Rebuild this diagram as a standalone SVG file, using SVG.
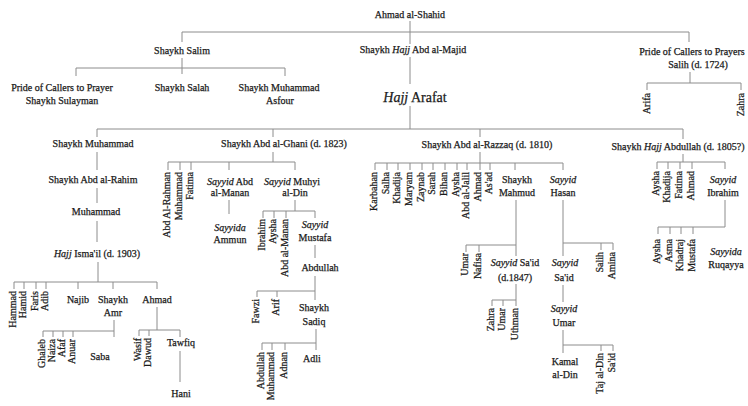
<svg xmlns="http://www.w3.org/2000/svg" width="748" height="406" viewBox="0 0 748 406">
<style>
.t{font-family:"Liberation Serif","Times New Roman",serif;font-size:10px;fill:#1a1a1a;stroke:#1a1a1a;stroke-width:0.25;text-anchor:middle}
.v{text-anchor:end}
.i{font-style:italic}
.big{font-size:14px}
#connectors path{stroke:#8c8c8c;stroke-width:1;fill:none}
</style>
<rect width="748" height="406" fill="#ffffff"/>
<g id="connectors">
<path d="M410 21V44M182 32H689M182 32V42M689 32V42"/>
<path d="M182 58V74M76 68H285M76 68V76M285 68V76"/>
<path d="M410 57V84M410 106V129M97 129H683M97 129V137M273 129V137M480 129V137M683 129V139"/>
<path d="M690 72V83M647 83H741M647 83V90M741 83V90"/>
<path d="M97 152V170M97 188V203M97 221V242"/>
<path d="M98 262V282M14 282H157M14 282V289M24 282V289M36 282V289M46 282V289M78 282V289M113 282V289M157 282V289"/>
<path d="M114 320V337M43 331H114M43 331V337M53 331V337M63 331V337M73 331V337"/>
<path d="M157 307V330M139 330H180M139 330V336M149 330V336M180 330V337M180 351V382"/>
<path d="M273 152V162M168 162H295M168 162V170M180 162V170M191 162V170M229 162V170M295 162V170"/>
<path d="M229 200V214M295 200V211M263 211H315M263 211V218M274 211V218M286 211V218M315 211V218"/>
<path d="M315 245V258M315 276V300M257 291H315M257 291V297M277 291V297"/>
<path d="M316 329V350M262 343H316M262 343V350M272 343V350M285 343V350"/>
<path d="M480 152V170M375 163H563M375 163V170M387 163V170M398 163V170M410 163V170M422 163V170M433 163V170M445 163V170M457 163V170M467 163V170M490 163V170M515 163V170M563 163V170"/>
<path d="M516 200V256M466 245H516M466 245V252M479 245V252M516 284V306M492 300H516M492 300V306M503 300V306"/>
<path d="M563 200V256M563 243H613M601 243V250M613 243V250M563 285V302M563 330V353M563 345H613M601 345V351M613 345V351"/>
<path d="M683 154V162M657 162H725M657 162V169M668 162V169M680 162V169M692 162V169M725 162V169"/>
<path d="M725 200V227M658 227H725M658 227V234M670 227V234M681 227V234M693 227V234"/>
</g>
<g id="n-ahmad-al-shahid"><text class="t" x="410" y="18">Ahmad al-Shahid</text></g>
<g id="n-salim"><text class="t" x="182" y="54">Shaykh Salim</text></g>
<g id="n-abd-al-majid"><text class="t" x="413" y="53">Shaykh <tspan class="i">Hajj</tspan> Abd al-Majid</text></g>
<g id="n-salih"><text class="t" x="692" y="55">Pride of Callers to Prayers</text><text class="t" x="698" y="68">Salih (d. 1724)</text></g>
<g id="n-sulayman"><text class="t" x="62" y="91">Pride of Callers to Prayer</text><text class="t" x="62" y="104">Shaykh Sulayman</text></g>
<g id="n-salah"><text class="t" x="182" y="91">Shaykh Salah</text></g>
<g id="n-asfour"><text class="t" x="279" y="91">Shaykh Muhammad</text><text class="t" x="280" y="104">Asfour</text></g>
<g id="n-arafat"><text class="t big" x="415" y="102"><tspan class="i">Hajj</tspan> Arafat</text></g>
<g id="n-arifa"><text class="t v" transform="translate(650,93) rotate(-90)">Arifa</text></g>
<g id="n-zahra1"><text class="t v" transform="translate(744,93) rotate(-90)">Zahra</text></g>

<g id="n-shaykh-muhammad"><text class="t" x="93" y="147">Shaykh Muhammad</text></g>
<g id="n-abd-al-ghani"><text class="t" x="284" y="147">Shaykh Abd al-Ghani (d. 1823)</text></g>
<g id="n-abd-al-razzaq"><text class="t" x="487" y="148">Shaykh Abd al-Razzaq (d. 1810)</text></g>
<g id="n-hajj-abdullah"><text class="t" x="678" y="150">Shaykh <tspan class="i">Hajj</tspan> Abdullah (d. 1805?)</text></g>

<g id="n-abd-al-rahim"><text class="t" x="93" y="183">Shaykh Abd al-Rahim</text></g>
<g id="n-muhammad2"><text class="t" x="96" y="215">Muhammad</text></g>
<g id="n-ismail"><text class="t" x="97" y="257"><tspan class="i">Hajj</tspan> Isma'il (d. 1903)</text></g>
<g id="n-hammad"><text class="t v" transform="translate(16,291) rotate(-90)">Hammad</text></g>
<g id="n-hamid"><text class="t v" transform="translate(26,291) rotate(-90)">Hamid</text></g>
<g id="n-faris"><text class="t v" transform="translate(38,291) rotate(-90)">Faris</text></g>
<g id="n-adib"><text class="t v" transform="translate(48,291) rotate(-90)">Adib</text></g>
<g id="n-najib"><text class="t" x="78" y="303">Najib</text></g>
<g id="n-amr"><text class="t" x="113" y="303">Shaykh</text><text class="t" x="113" y="316">Amr</text></g>
<g id="n-ahmad2"><text class="t" x="157" y="303">Ahmad</text></g>
<g id="n-ghaleb"><text class="t v" transform="translate(45,339) rotate(-90)">Ghaleb</text></g>
<g id="n-naiza"><text class="t v" transform="translate(55,339) rotate(-90)">Naiza</text></g>
<g id="n-afaf"><text class="t v" transform="translate(65,339) rotate(-90)">Afaf</text></g>
<g id="n-anuar"><text class="t v" transform="translate(75,339) rotate(-90)">Anuar</text></g>
<g id="n-saba"><text class="t" x="100" y="360">Saba</text></g>
<g id="n-wasif"><text class="t v" transform="translate(141,338) rotate(-90)">Wasif</text></g>
<g id="n-dawud"><text class="t v" transform="translate(151,338) rotate(-90)">Dawud</text></g>
<g id="n-tawfiq"><text class="t" x="181" y="346">Tawfiq</text></g>
<g id="n-hani"><text class="t" x="181" y="397">Hani</text></g>

<g id="n-abd-al-rahman"><text class="t v" transform="translate(170,172) rotate(-90)">Abd Al-Rahman</text></g>
<g id="n-muhammad3"><text class="t v" transform="translate(182,172) rotate(-90)">Muhammad</text></g>
<g id="n-fatima1"><text class="t v" transform="translate(193,172) rotate(-90)">Fatima</text></g>
<g id="n-abd-al-manan"><text class="t" x="230" y="185"><tspan class="i">Sayyid</tspan> Abd</text><text class="t" x="230" y="196">al-Manan</text></g>
<g id="n-muhyi"><text class="t" x="292" y="185"><tspan class="i">Sayyid</tspan> Muhyi</text><text class="t" x="295" y="196">al-Din</text></g>
<g id="n-ammun"><text class="t i" x="230" y="231">Sayyida</text><text class="t" x="230" y="243">Ammun</text></g>
<g id="n-ibrahim1"><text class="t v" transform="translate(265,219) rotate(-90)">Ibrahim</text></g>
<g id="n-aysha1"><text class="t v" transform="translate(276,219) rotate(-90)">Aysha</text></g>
<g id="n-abd-al-manan2"><text class="t v" transform="translate(288,219) rotate(-90)">Abd al-Manan</text></g>
<g id="n-mustafa"><text class="t i" x="315" y="228">Sayyid</text><text class="t" x="315" y="241">Mustafa</text></g>
<g id="n-abdullah1"><text class="t" x="320" y="271">Abdullah</text></g>
<g id="n-fawzi"><text class="t v" transform="translate(259,299) rotate(-90)">Fawzi</text></g>
<g id="n-arif"><text class="t v" transform="translate(279,299) rotate(-90)">Arif</text></g>
<g id="n-sadiq"><text class="t" x="314" y="311">Shaykh</text><text class="t" x="314" y="325">Sadiq</text></g>
<g id="n-abdullah2"><text class="t v" transform="translate(264,352) rotate(-90)">Abdullah</text></g>
<g id="n-muhammad4"><text class="t v" transform="translate(274,352) rotate(-90)">Muhammad</text></g>
<g id="n-adnan"><text class="t v" transform="translate(287,352) rotate(-90)">Adnan</text></g>
<g id="n-adli"><text class="t" x="312" y="362">Adli</text></g>

<g id="n-karbahan"><text class="t v" transform="translate(377,172) rotate(-90)">Karbahan</text></g>
<g id="n-salha"><text class="t v" transform="translate(389,172) rotate(-90)">Salha</text></g>
<g id="n-khadija1"><text class="t v" transform="translate(400,172) rotate(-90)">Khadija</text></g>
<g id="n-maryam"><text class="t v" transform="translate(412,172) rotate(-90)">Maryam</text></g>
<g id="n-zaynab"><text class="t v" transform="translate(424,172) rotate(-90)">Zaynab</text></g>
<g id="n-sarah"><text class="t v" transform="translate(435,172) rotate(-90)">Sarah</text></g>
<g id="n-bihan"><text class="t v" transform="translate(447,172) rotate(-90)">Bihan</text></g>
<g id="n-aysha2"><text class="t v" transform="translate(459,172) rotate(-90)">Aysha</text></g>
<g id="n-abd-al-jalil"><text class="t v" transform="translate(469,172) rotate(-90)">Abd al-Jalil</text></g>
<g id="n-ahmad3"><text class="t v" transform="translate(481,172) rotate(-90)">Ahmad</text></g>
<g id="n-asad"><text class="t v" transform="translate(492,172) rotate(-90)">As'ad</text></g>
<g id="n-mahmud"><text class="t" x="517" y="183">Shaykh</text><text class="t" x="517" y="196">Mahmud</text></g>
<g id="n-hasan"><text class="t i" x="563" y="183">Sayyid</text><text class="t" x="563" y="196">Hasan</text></g>
<g id="n-umar1"><text class="t v" transform="translate(468,253) rotate(-90)">Umar</text></g>
<g id="n-nafisa"><text class="t v" transform="translate(481,253) rotate(-90)">Nafisa</text></g>
<g id="n-said1"><text class="t" x="515" y="266"><tspan class="i">Sayyid</tspan> Sa'id</text><text class="t" x="515" y="281">(d.1847)</text></g>
<g id="n-zahra2"><text class="t v" transform="translate(494,308) rotate(-90)">Zahra</text></g>
<g id="n-umar2"><text class="t v" transform="translate(505,308) rotate(-90)">Umar</text></g>
<g id="n-uthman"><text class="t v" transform="translate(518,308) rotate(-90)">Uthman</text></g>
<g id="n-said2"><text class="t i" x="565" y="266">Sayyid</text><text class="t" x="564" y="281">Sa'id</text></g>
<g id="n-salih2"><text class="t v" transform="translate(603,252) rotate(-90)">Salih</text></g>
<g id="n-amina"><text class="t v" transform="translate(615,252) rotate(-90)">Amina</text></g>
<g id="n-umar3"><text class="t i" x="564" y="312">Sayyid</text><text class="t" x="564" y="326">Umar</text></g>
<g id="n-kamal"><text class="t" x="565" y="365">Kamal</text><text class="t" x="565" y="378">al-Din</text></g>
<g id="n-taj-al-din"><text class="t v" transform="translate(603,353) rotate(-90)">Taj al-Din</text></g>
<g id="n-said3"><text class="t v" transform="translate(615,353) rotate(-90)">Sa'id</text></g>

<g id="n-aysha3"><text class="t v" transform="translate(659,171) rotate(-90)">Aysha</text></g>
<g id="n-khadija2"><text class="t v" transform="translate(670,171) rotate(-90)">Khadija</text></g>
<g id="n-fatima2"><text class="t v" transform="translate(682,171) rotate(-90)">Fatima</text></g>
<g id="n-ahmad4"><text class="t v" transform="translate(694,171) rotate(-90)">Ahmad</text></g>
<g id="n-ibrahim2"><text class="t i" x="723" y="183">Sayyid</text><text class="t" x="723" y="196">Ibrahim</text></g>
<g id="n-aysha4"><text class="t v" transform="translate(660,239) rotate(-90)">Aysha</text></g>
<g id="n-asma"><text class="t v" transform="translate(672,239) rotate(-90)">Asma</text></g>
<g id="n-khadraj"><text class="t v" transform="translate(683,239) rotate(-90)">Khadraj</text></g>
<g id="n-mustafa2"><text class="t v" transform="translate(695,239) rotate(-90)">Mustafa</text></g>
<g id="n-ruqayya"><text class="t i" x="726" y="255">Sayyida</text><text class="t" x="726" y="268">Ruqayya</text></g>
</svg>
